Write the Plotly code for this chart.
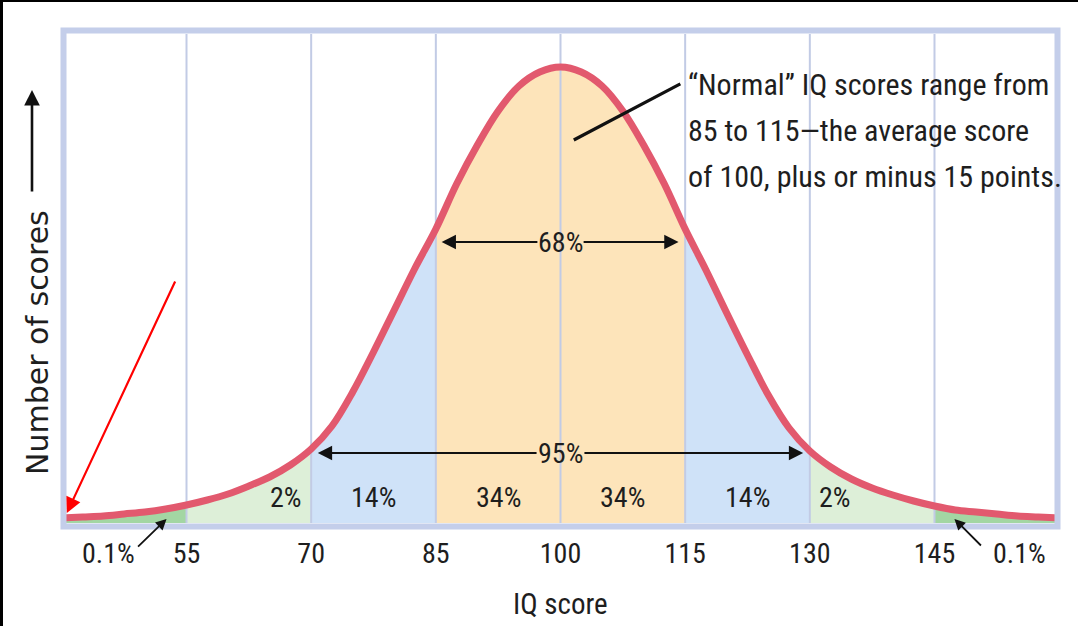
import plotly.graph_objects as go

# IQ score axis and curve heights
iq = [40, 42.5, 45, 47.5, 50, 52.5, 55, 57.5, 60, 62.5, 65, 67.5, 70, 72.5, 75, 77.5,
      80, 82.5, 85, 87.5, 90, 92.5, 95, 97.5, 100, 102.5, 105, 107.5, 110, 112.5, 115,
      117.5, 120, 122.5, 125, 127.5, 130, 132.5, 135, 137.5, 140, 142.5, 145, 147.5,
      150, 152.5, 155, 157.5, 160]
scores = [5, 6, 7, 9, 11, 14, 18, 23, 29, 37, 46, 58, 74, 97, 131, 171,
          213, 255, 294, 339, 378, 412, 437, 451, 456, 451, 437, 412, 378, 339, 294,
          253, 210, 168, 128, 95, 72, 56, 44, 35, 28, 22, 17, 13,
          11, 9, 7, 6, 5]

tick_vals = [55, 70, 85, 100, 115, 130, 145]
tick_text = ["55", "70", "85", "100", "115", "130", "145"]

band_edges = [40, 55, 70, 85, 115, 130, 145, 160]
band_colors = ["#a3d6a3", "#ddefd8", "#cfe2f8", "#fde4ba", "#cfe2f8", "#ddefd8", "#a3d6a3"]
band_labels = ["", "2%", "14%", "34%|34%", "14%", "2%", ""]

note_lines = ["\u201cNormal\u201d IQ scores range from",
              "85 to 115\u2014the average score",
              "of 100, plus or minus 15 points."]

NARROW = "Liberation Sans Narrow, Arial Narrow, Roboto Condensed, Lato, sans-serif"
INK = "#1e1e1e"
W, H = 1078, 626

fig = go.Figure()

# shaded bands under the curve
for i in range(len(band_colors)):
    lo, hi = band_edges[i], band_edges[i + 1]
    xs = [x for x in iq if lo <= x <= hi]
    ys = [s for x, s in zip(iq, scores) if lo <= x <= hi]
    fig.add_trace(go.Scatter(x=xs, y=ys, mode="lines", fill="tozeroy",
                             fillcolor=band_colors[i], line=dict(width=0, shape="spline"),
                             hoverinfo="skip"))

# vertical grid lines drawn over the bands
gx, gy = [], []
for v in tick_vals:
    gx += [v, v, None]
    gy += [0, 489, None]
fig.add_trace(go.Scatter(x=gx, y=gy, mode="lines", line=dict(color="#c2cbe5", width=2),
                         hoverinfo="skip"))

# the curve
fig.add_trace(go.Scatter(x=iq, y=scores, mode="lines",
                         line=dict(color="#e2596e", width=7, shape="spline"),
                         hoverinfo="skip"))

ann = []

# percentage labels in the bands
lab_y = 26
ann.append(dict(x=band_edges[2], y=lab_y, text=band_labels[1], xanchor="right", xshift=-7))
ann.append(dict(x=(band_edges[2] + band_edges[3]) / 2, y=lab_y, text=band_labels[2]))
left34, right34 = band_labels[3].split("|")
ann.append(dict(x=(band_edges[3] + 100) / 2, y=lab_y, text=left34))
ann.append(dict(x=(100 + band_edges[4]) / 2, y=lab_y, text=right34))
ann.append(dict(x=(band_edges[4] + band_edges[5]) / 2, y=lab_y, text=band_labels[4]))
ann.append(dict(x=band_edges[5], y=lab_y, text=band_labels[5], xanchor="left", xshift=7))

# 68% and 95% range arrows
ann.append(dict(x=100, y=281, text="68%"))
ann.append(dict(x=100, y=70, text="95%"))
for y0, x_in_l, x_tip_l, x_in_r, x_tip_r in [(281, 97.4, 85.7, 102.6, 114.2),
                                              (70, 97.3, 70.8, 102.7, 129.2)]:
    ann.append(dict(x=x_tip_l, y=y0, ax=x_in_l, ay=y0, axref="x", ayref="y", text="",
                    showarrow=True, arrowhead=2, arrowsize=1.3, arrowwidth=2.2,
                    arrowcolor="#111"))
    ann.append(dict(x=x_tip_r, y=y0, ax=x_in_r, ay=y0, axref="x", ayref="y", text="",
                    showarrow=True, arrowhead=2, arrowsize=1.3, arrowwidth=2.2,
                    arrowcolor="#111"))

# leader line from the note
ann.append(dict(x=101.6, y=383, ax=114.6, ay=440, axref="x", ayref="y", text="",
                showarrow=True, arrowhead=0, arrowwidth=3.2, arrowcolor="#111"))

for k, line in enumerate(note_lines):
    ann.append(dict(x=686 / W, y=1 - (85 + 45.5 * k) / H, xref="paper", yref="paper",
                    text=line, xanchor="left", yanchor="middle",
                    font=dict(family=NARROW, size=30, color=INK)))

# 0.1% tails
ann.append(dict(x=108 / W, y=1 - 553 / H, xref="paper", yref="paper", text="0.1%"))
ann.append(dict(x=1019 / W, y=1 - 553 / H, xref="paper", yref="paper", text="0.1%"))
ann.append(dict(x=52.6, y=4, ax=-30, ay=29, text="", showarrow=True, arrowhead=2,
                arrowsize=1.2, arrowwidth=1.8, arrowcolor="#111"))
ann.append(dict(x=147.4, y=4, ax=28, ay=28, text="", showarrow=True, arrowhead=2,
                arrowsize=1.2, arrowwidth=1.8, arrowcolor="#111"))

# red pointer
ann.append(dict(x=40.6, y=10, ax=109, ay=-233, text="", showarrow=True, arrowhead=2,
                arrowsize=1.4, arrowwidth=2.2, arrowcolor="#ff0000"))

# axis titles
ann.append(dict(x=560 / W, y=1 - 604 / H, xref="paper", yref="paper", text="IQ score",
                font=dict(family=NARROW, size=29, color=INK)))
ann.append(dict(x=37 / W, y=1 - 343 / H, xref="paper", yref="paper", text="Number of scores",
                textangle=-90, font=dict(family="DejaVu Sans, sans-serif", size=30, color=INK)))
ann.append(dict(x=32 / W, y=1 - 90 / H, xref="paper", yref="paper", ax=0, ay=103, text="",
                showarrow=True, arrowhead=2, arrowsize=1.2, arrowwidth=2.6, arrowcolor="#111"))

for a in ann:
    a.setdefault("showarrow", False)
    a.setdefault("xanchor", "center")
    a.setdefault("yanchor", "middle")
    a.setdefault("font", dict(family=NARROW, size=28, color=INK))

fig.update_layout(
    width=W, height=H,
    margin=dict(l=0, r=0, t=0, b=0),
    paper_bgcolor="white", plot_bgcolor="white",
    showlegend=False,
    annotations=ann,
    xaxis=dict(range=[40.5, 159.5], domain=[66 / W, 1055 / W], tickvals=tick_vals,
               ticktext=tick_text, ticks="outside", ticklen=5, tickcolor="rgba(0,0,0,0)",
               showgrid=False, zeroline=False, showline=False, fixedrange=True,
               tickfont=dict(family=NARROW, size=28, color=INK)),
    yaxis=dict(range=[0, 489], domain=[103 / H, 592 / H], visible=False, fixedrange=True),
    shapes=[
        dict(type="rect", xref="paper", yref="paper", x0=63.5 / W, x1=1057.5 / W,
             y0=1 - 526.5 / H, y1=1 - 30.5 / H, line=dict(color="#c4ceea", width=6),
             layer="above"),
        dict(type="rect", xref="paper", yref="paper", x0=0, x1=3 / W, y0=0, y1=1,
             fillcolor="black", line=dict(width=0)),
        dict(type="rect", xref="paper", yref="paper", x0=0, x1=1, y0=1 - 2 / H, y1=1,
             fillcolor="black", line=dict(width=0)),
    ],
)

fig.write_html("out.html", config={"displayModeBar": False},
               post_script="document.body.style.margin='0';")
